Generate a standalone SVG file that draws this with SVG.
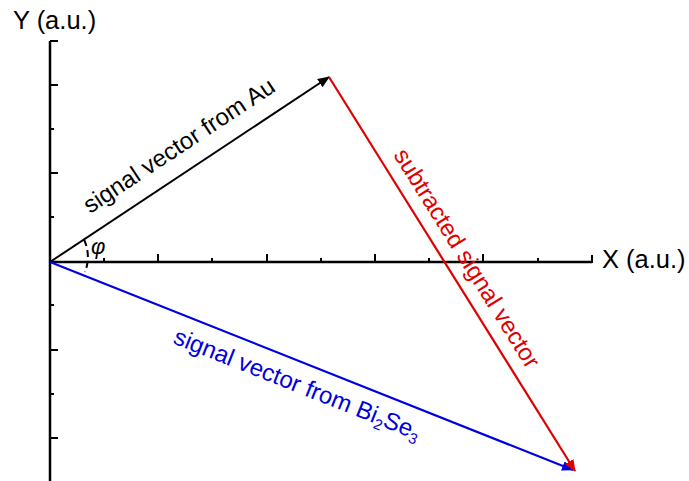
<svg xmlns="http://www.w3.org/2000/svg" width="689" height="481" viewBox="0 0 689 481">
<style>
.axis{stroke:#000;stroke-width:2.5;fill:none}
.tick{stroke:#000;stroke-width:2;fill:none}
.lbl{font-family:"Liberation Sans",Arial,sans-serif;font-size:24px}
.ax{font-family:"Liberation Sans",Arial,sans-serif;font-size:25.5px;fill:#000}
</style>
<defs>
<marker id="ak" markerWidth="12" markerHeight="10" refX="11" refY="5" orient="auto" markerUnits="userSpaceOnUse"><path d="M0,0 L12,5 L0,10 Z" fill="#000"/></marker>
<marker id="ar" markerWidth="12" markerHeight="10" refX="11" refY="5" orient="auto" markerUnits="userSpaceOnUse"><path d="M0,0 L12,5 L0,10 Z" fill="#e00000"/></marker>
<marker id="ab" markerWidth="12" markerHeight="10" refX="11" refY="5" orient="auto" markerUnits="userSpaceOnUse"><path d="M0,0 L12,5 L0,10 Z" fill="#0000e0"/></marker>
</defs>
<rect width="689" height="481" fill="#fff"/>
<g id="axes">
<path class="axis" d="M50,41 V481 M50,262 H592"/>
<path class="tick" d="M50,41 H58 M50,85 H58 M50,129 H54 M50,173 H58 M50,217 H54 M50,305 H54 M50,350 H58 M50,394 H54 M50,438 H58"/>
<path class="tick" d="M104,262 V258 M158,262 V254 M212,262 V258 M267,262 V254 M321,262 V258 M375,262 V254 M429,262 V258 M483,262 V254 M538,262 V258 M592,263 V255"/>
<text class="ax" x="13" y="29">Y (a.u.)</text>
<text class="ax" x="602" y="268">X (a.u.)</text>
</g>
<g id="angle">
<path d="M84,239.5 A41,41 0 0 1 85,272" fill="none" stroke="#000" stroke-width="2" stroke-dasharray="7,4"/>
<text x="91" y="254" font-family="Liberation Sans,Arial,sans-serif" font-size="22" font-style="italic">φ</text>
</g>
<g id="connectors">
<line x1="50" y1="262" x2="329" y2="77" stroke="#000" stroke-width="2" marker-end="url(#ak)"/>
<line x1="50" y1="262" x2="573" y2="470" stroke="#0000e0" stroke-width="2.2" marker-end="url(#ab)"/>
<line x1="329" y1="77" x2="575" y2="471" stroke="#e00000" stroke-width="2.2" marker-end="url(#ar)"/>
</g>
<g id="label-au">
<text class="lbl" fill="#000" transform="translate(90,214) rotate(-33.5)">signal vector from Au</text>
</g>
<g id="label-sub">
<text class="lbl" fill="#e00000" transform="translate(393,155) rotate(58)">subtracted signal vector</text>
</g>
<g id="label-bi">
<text class="lbl" fill="#0000e0" transform="translate(172,343) rotate(21.65)">signal vector from Bi<tspan font-size="15" dy="5">2</tspan><tspan dy="-5">Se</tspan><tspan font-size="15" dy="5">3</tspan></text>
</g>
</svg>
